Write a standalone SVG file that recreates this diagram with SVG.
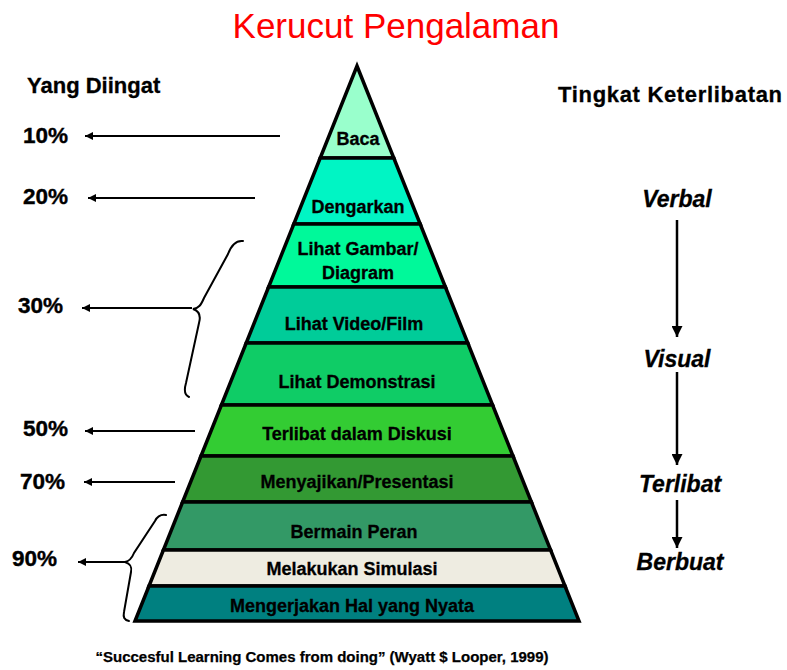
<svg xmlns="http://www.w3.org/2000/svg" width="787" height="670" viewBox="0 0 787 670">
<style>
.band{stroke:#000;stroke-width:3.5;stroke-linejoin:miter}
.lbl{font-family:"Liberation Sans",Arial,sans-serif;font-weight:bold;font-size:18px;fill:#000;text-anchor:middle;stroke:#000;stroke-width:0.3}
.pct{font-family:"Liberation Sans",Arial,sans-serif;font-weight:bold;font-size:22.5px;fill:#000;stroke:#000;stroke-width:0.4}
.hdr{font-family:"Liberation Sans",Arial,sans-serif;font-weight:bold;font-size:22px;fill:#000;stroke:#000;stroke-width:0.3}
.lvl{font-family:"Liberation Sans",Arial,sans-serif;font-weight:bold;font-style:italic;font-size:23px;fill:#000;text-anchor:middle;stroke:#000;stroke-width:0.3}
.arr{stroke:#000;stroke-width:2;fill:none}
.varr{stroke:#000;stroke-width:2.5;fill:none}
.brace{stroke:#000;stroke-width:2;fill:none;stroke-linecap:round}
</style>
<defs>
<marker id="ah" viewBox="0 0 10 10" refX="10" refY="5" markerWidth="9" markerHeight="8" markerUnits="userSpaceOnUse" orient="auto">
<path d="M0,0 L10,5 L0,10 z" fill="#000"/>
</marker>
<marker id="ahv" viewBox="0 0 10 10" refX="10" refY="5" markerWidth="13" markerHeight="11" markerUnits="userSpaceOnUse" orient="auto">
<path d="M0,0 L10,5 L0,10 z" fill="#000"/>
</marker>
</defs>
<rect width="787" height="670" fill="#fff"/>
<text x="396" y="38" font-family="Liberation Sans, Arial, sans-serif" font-size="35" fill="#FF0000" text-anchor="middle">Kerucut Pengalaman</text>

<g id="pyramid">
<g id="n-baca"><polygon class="band" fill="#99FFCC" points="357,66 393.8,158 320.2,158"/><text class="lbl" x="358" y="145">Baca</text></g>
<g id="n-dengarkan"><polygon class="band" fill="#00F5C4" points="320.2,158 393.8,158 420.2,224 293.8,224"/><text class="lbl" x="358" y="213">Dengarkan</text></g>
<g id="n-gambar"><polygon class="band" fill="#00F99A" points="293.8,224 420.2,224 445.4,287 268.6,287"/><text class="lbl" x="358" y="255">Lihat Gambar/</text><text class="lbl" x="358" y="279">Diagram</text></g>
<g id="n-video"><polygon class="band" fill="#00CC99" points="268.6,287 445.4,287 467.8,343 246.2,343"/><text class="lbl" x="354" y="330">Lihat Video/Film</text></g>
<g id="n-demo"><polygon class="band" fill="#0FCC66" points="246.2,343 467.8,343 492.6,405 221.4,405"/><text class="lbl" x="357" y="388">Lihat Demonstrasi</text></g>
<g id="n-diskusi"><polygon class="band" fill="#33CC33" points="221.4,405 492.6,405 513,456 201,456"/><text class="lbl" x="357" y="440">Terlibat dalam  Diskusi</text></g>
<g id="n-presentasi"><polygon class="band" fill="#339933" points="201,456 513,456 531.4,502 182.6,502"/><text class="lbl" x="357" y="488">Menyajikan/Presentasi</text></g>
<g id="n-peran"><polygon class="band" fill="#339966" points="182.6,502 531.4,502 550.6,550 163.4,550"/><text class="lbl" x="354" y="538">Bermain Peran</text></g>
<g id="n-simulasi"><polygon class="band" fill="#EEECE1" points="163.4,550 550.6,550 565,586 149,586"/><text class="lbl" x="352" y="575">Melakukan Simulasi</text></g>
<g id="n-nyata"><polygon class="band" fill="#008080" points="149,586 565,586 579,621 135,621"/><text class="lbl" x="352" y="612">Mengerjakan Hal yang Nyata</text></g>
</g>

<g id="left-labels">
<text class="hdr" x="27" y="93">Yang Diingat</text>
<text class="pct" x="23" y="143">10%</text>
<text class="pct" x="23" y="204">20%</text>
<text class="pct" x="18" y="313">30%</text>
<text class="pct" x="23" y="436">50%</text>
<text class="pct" x="20" y="489">70%</text>
<text class="pct" x="12" y="566">90%</text>
</g>

<g id="right-labels">
<text class="hdr" x="558" y="102" textLength="224" lengthAdjust="spacing">Tingkat Keterlibatan</text>
<text class="lvl" x="677" y="207">Verbal</text>
<text class="lvl" x="677" y="367">Visual</text>
<text class="lvl" x="680" y="492">Terlibat</text>
<text class="lvl" x="680" y="570">Berbuat</text>
</g>

<g id="connectors">
<line class="arr" x1="280" y1="136" x2="85" y2="136" marker-end="url(#ah)"/>
<line class="arr" x1="255" y1="198" x2="88" y2="198" marker-end="url(#ah)"/>
<line class="arr" x1="192" y1="308" x2="82" y2="308" marker-end="url(#ah)"/>
<line class="arr" x1="195" y1="431" x2="85" y2="431" marker-end="url(#ah)"/>
<line class="arr" x1="175" y1="482" x2="84" y2="482" marker-end="url(#ah)"/>
<line class="arr" x1="125" y1="562" x2="78" y2="562" marker-end="url(#ah)"/>
<path class="brace" d="M243,241 C235,240 231,246 228,254 L204,298 C201,305 199,308 193,309 C199,311 201,316 199,323 L186,383 C184,390 184,395 189,397"/>
<path class="brace" d="M166,515 C160,514 157,517 155,521 L134,553 C132,558 130,561 125,562 C131,564 132,567 131,572 L124,612 C123,617 124,620 129,621"/>
<line class="varr" x1="677" y1="220" x2="677" y2="337" marker-end="url(#ahv)"/>
<line class="varr" x1="677" y1="372" x2="677" y2="465" marker-end="url(#ahv)"/>
<line class="varr" x1="677" y1="500" x2="677" y2="548" marker-end="url(#ahv)"/>
</g>

<text x="322" y="662" font-family="Liberation Sans, Arial, sans-serif" font-weight="bold" font-size="14.5" fill="#000" stroke="#000" stroke-width="0.25" text-anchor="middle" textLength="453" lengthAdjust="spacingAndGlyphs">“Succesful Learning Comes from doing” (Wyatt $ Looper, 1999)</text>
</svg>
